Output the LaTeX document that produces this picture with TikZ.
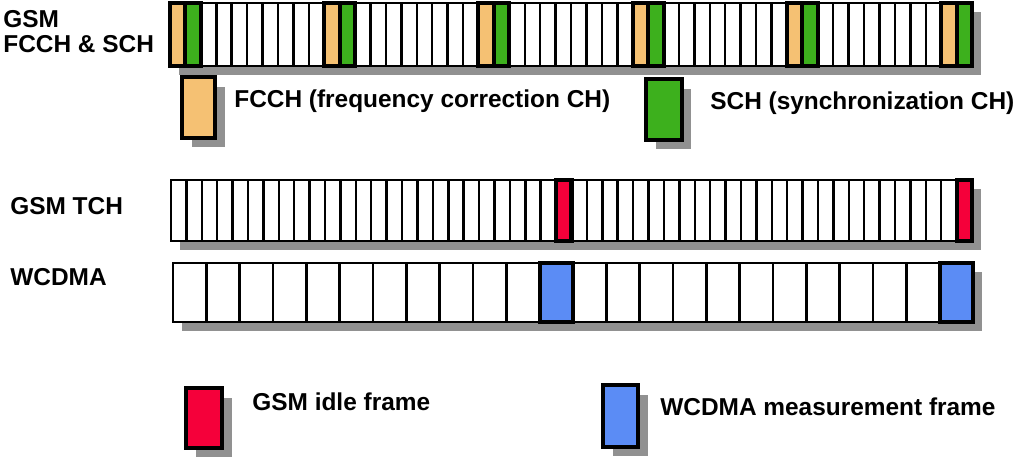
\documentclass[tikz,border=0pt]{standalone}
\usepackage{fontspec}
\setmainfont{Liberation Sans}
\usetikzlibrary{positioning}
\definecolor{fcchcol}{HTML}{F5C173}
\definecolor{schcol}{HTML}{3DB01D}
\definecolor{idlecol}{HTML}{F5003A}
\definecolor{meascol}{HTML}{5B8CF5}
\definecolor{shadowcol}{HTML}{919191}
\begin{document}
\begin{tikzpicture}[
        x=0.02cm, y=-0.02cm,
        lbl/.style={font=\fontsize{13.9}{16}\selectfont\bfseries, anchor=base west, inner sep=0pt},
        sep/.style={line width=1.4pt},
        barframe/.style={draw, line width=1.4pt, fill=white},
        colslot/.style={draw, line width=2.3pt},
        keybox/.style={draw, line width=2.3pt}
    ]
        \useasboundingbox (0,0) rectangle (1020,460);

        % left labels
        \node[lbl] (gsm)   at (3,27)   {GSM};
        \node[lbl] (fcsch) at (3,52)   {FCCH \& SCH};
        \node[lbl] (tch)   at (10,214) {GSM TCH};
        \node[lbl] (wcdma) at (10,285) {WCDMA};

        % GSM FCCH & SCH bar (52 slots)
        \def\fw{15.423}
        \fill[shadowcol] (179,12) rectangle (981,75);
        \draw[barframe] (170,3) rectangle (972,66);
        \foreach \i in {1,...,51}
            \draw[sep] (170+\i*\fw,3) -- (170+\i*\fw,66);
        \foreach \i in {0,10,...,50} {
            \draw[colslot, fill=fcchcol] (170+\i*\fw,3) rectangle (170+\i*\fw+\fw,66);
            \draw[colslot, fill=schcol] (170+\i*\fw+\fw,3) rectangle (170+\i*\fw+2*\fw,66);
        }

        % GSM TCH bar (52 slots)
        \def\tw{15.404}
        \fill[shadowcol] (180,189) rectangle (981,250);
        \draw[barframe] (171,180) rectangle (972,241);
        \foreach \i in {1,...,51}
            \draw[sep] (171+\i*\tw,180) -- (171+\i*\tw,241);
        \foreach \i in {25,51}
            \draw[colslot, fill=idlecol] (171+\i*\tw,180) rectangle (171+\i*\tw+\tw,241);

        % WCDMA bar (24 slots)
        \def\ww{33.333}
        \fill[shadowcol] (182,272) rectangle (982,331);
        \draw[barframe] (173,263) rectangle (973,322);
        \foreach \i in {1,...,23}
            \draw[sep] (173+\i*\ww,263) -- (173+\i*\ww,322);
        \foreach \i in {11,23}
            \draw[colslot, fill=meascol] (173+\i*\ww,263) rectangle (173+\i*\ww+\ww,322);

        % legend
        \fill[shadowcol] (192,87) rectangle (225,147);
        \draw[keybox, fill=fcchcol] (182,77) rectangle (215,138);
        \node[lbl] (fcchkey) at (234,107) {FCCH (frequency correction CH)};

        \fill[shadowcol] (656,89) rectangle (691,149);
        \draw[keybox, fill=schcol] (646,79) rectangle (682,140);
        \node[lbl] (schkey) at (710,109) {SCH (synchronization CH)};

        \fill[shadowcol] (196,398) rectangle (232,457);
        \draw[keybox, fill=idlecol] (186,388) rectangle (222,448);
        \node[lbl] (idlekey) at (252,410) {GSM idle frame};

        \fill[shadowcol] (613,395) rectangle (648,456);
        \draw[keybox, fill=meascol] (603,385) rectangle (638,447);
        \node[lbl] (measkey) at (660,415) {WCDMA measurement frame};
    \end{tikzpicture}
\end{document}
